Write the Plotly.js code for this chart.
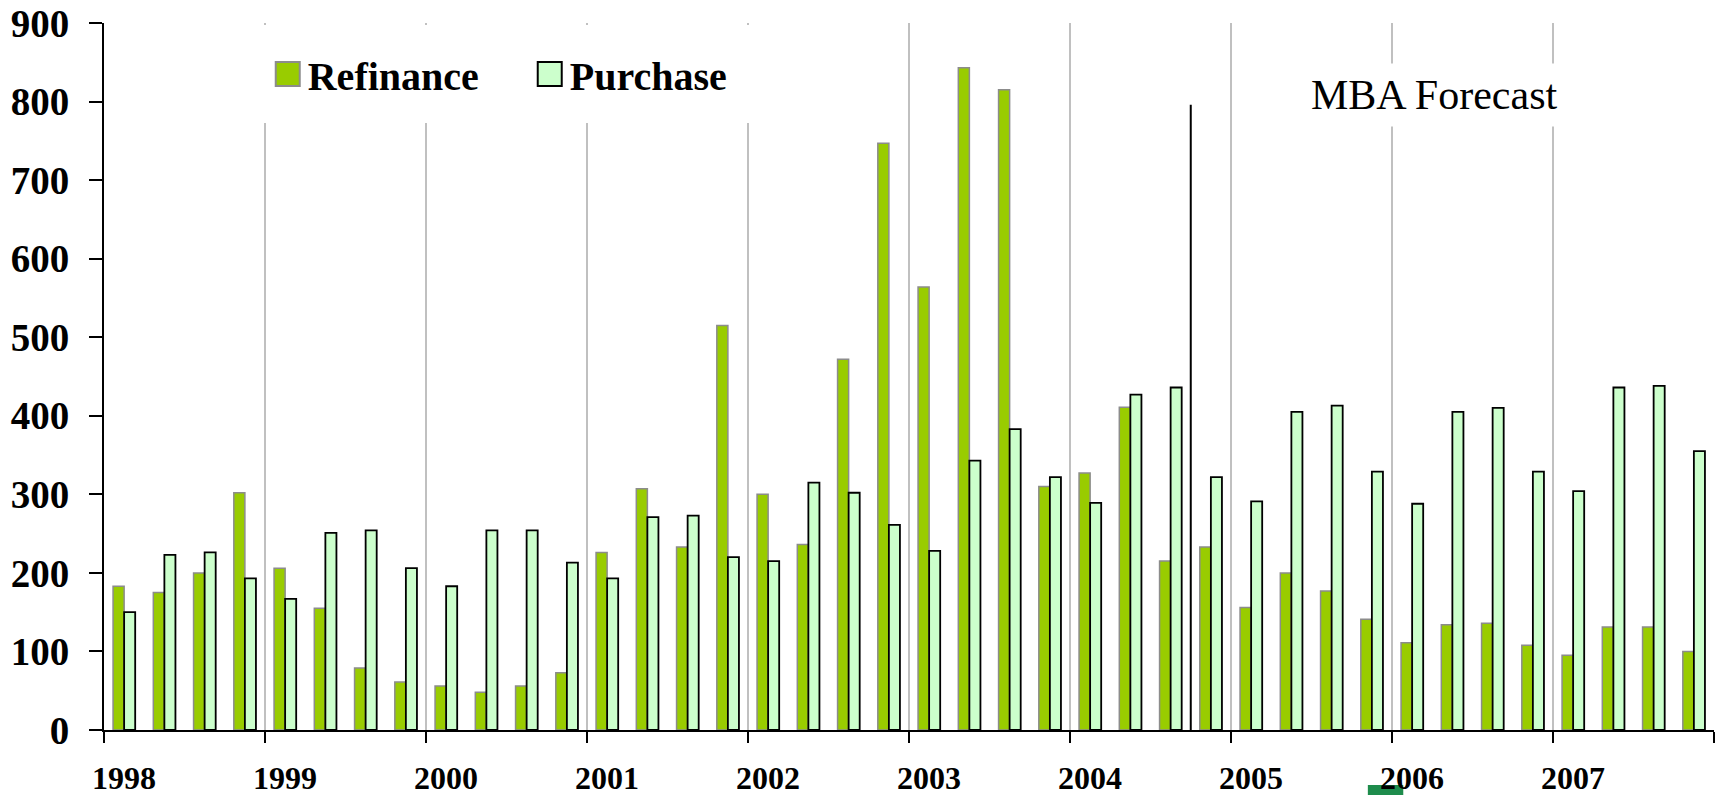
<!DOCTYPE html>
<html>
<head>
<meta charset="utf-8">
<script src="https://cdn.plot.ly/plotly-3.0.1.min.js"></script>
<style>
  html, body { margin: 0; padding: 0; background: #ffffff; }
  #chart { width: 1716px; height: 795px; }
</style>
</head>
<body>
<div id="chart"></div>
<script>
// ---- data ----
const years = ['1998', '1999', '2000', '2001', '2002', '2003', '2004', '2005', '2006', '2007'];
const quarterNames = ['Q1', 'Q2', 'Q3', 'Q4'];
const refinance = [
  183, 175, 200, 302,
  206, 155, 79, 61,
  56, 48, 56, 73,
  226, 307, 233, 515,
  300, 236, 472, 747,
  564, 843, 815, 310,
  327, 411, 215, 233,
  156, 200, 177, 141,
  111, 134, 136, 108,
  95, 131, 131, 100
];
const purchase = [
  150, 223, 226, 193,
  167, 251, 254, 206,
  183, 254, 254, 213,
  193, 271, 273, 220,
  215, 315, 302, 261,
  228, 343, 383, 322,
  289, 427, 436, 322,
  291, 405, 413, 329,
  288, 405, 410, 329,
  304, 436, 438, 355
];
const yTicks = [0, 100, 200, 300, 400, 500, 600, 700, 800, 900];
const forecastAfter = '2004 Q3';   // last actual quarter
const forecastLineTop = 796;
const forecastLabel = 'MBA Forecast';

// ---- derived ----
const quarters = [];
years.forEach(y => quarterNames.forEach(q => quarters.push(y + ' ' + q)));
const xIdx = quarters.map((_, i) => i);
const yearStarts = years.map((_, i) => i * 4 - 0.5);
const tickVals = yearStarts.concat([quarters.length - 0.5]);
const tickText = years.concat(['']);
const forecastX = quarters.indexOf(forecastAfter) + 0.5;

const serif = 'Liberation Serif, Times New Roman, serif';

const traces = [
  {
    type: 'bar', name: 'Refinance', x: xIdx, y: refinance,
    text: quarters, hoverinfo: 'text+y+name', textposition: 'none',
    marker: { color: '#99cc00', line: { color: '#8c8c8c', width: 1.5 } }
  },
  {
    type: 'bar', name: 'Purchase', x: xIdx, y: purchase,
    text: quarters, hoverinfo: 'text+y+name', textposition: 'none',
    marker: { color: '#ccffcc', line: { color: '#000000', width: 1.8 } }
  }
];

const layout = {
  width: 1716, height: 795,
  margin: { l: 104, r: 2, t: 23, b: 65 },
  paper_bgcolor: '#ffffff', plot_bgcolor: '#ffffff',
  barmode: 'group', bargap: 0.45, bargroupgap: 0,
  font: { family: serif, color: '#000000' },
  showlegend: true,
  legend: {
    orientation: 'h', x: 0.1017, xanchor: 'left', y: 0.928, yanchor: 'middle',
    bgcolor: 'rgba(255,255,255,0)', borderwidth: 0,
    font: { family: serif, size: 40, color: '#000000', weight: 'bold' },
    entrywidth: 217, entrywidthmode: 'pixels'
  },
  xaxis: {
    range: [-0.5, quarters.length - 0.5],
    tickmode: 'array', tickvals: tickVals, ticktext: tickText,
    ticks: 'outside', ticklen: 11, tickwidth: 2, tickcolor: '#000000',
    ticklabelshift: 20, ticklabelstandoff: 8,
    tickfont: { family: serif, size: 32, color: '#000000', weight: 'bold' },
    showgrid: true, gridcolor: '#c0c0c0', gridwidth: 1.5,
    showline: true, linecolor: '#000000', linewidth: 2,
    zeroline: false, fixedrange: true
  },
  yaxis: {
    range: [0, 900],
    tickmode: 'array', tickvals: yTicks,
    ticks: 'outside', ticklen: 13, tickwidth: 2, tickcolor: '#000000',
    ticklabelstandoff: 12,
    tickfont: { family: serif, size: 39, color: '#000000', weight: 'bold' },
    showgrid: false, zeroline: false,
    showline: true, linecolor: '#000000', linewidth: 2, fixedrange: true
  },
  shapes: [
    // white legend backing box (hides gridlines behind the legend)
    { type: 'rect', xref: 'paper', yref: 'paper', layer: 'above',
      x0: 0.09, x1: 0.48, y0: 0.8586, y1: 0.997,
      fillcolor: '#ffffff', line: { width: 0 } },
    // forecast divider
    { type: 'line', xref: 'x', yref: 'y', layer: 'above',
      x0: forecastX, x1: forecastX, y0: 0, y1: forecastLineTop,
      line: { color: '#000000', width: 2 } },
    // cropped logo fragment at the bottom edge
    { type: 'rect', xref: 'paper', yref: 'paper', layer: 'below',
      x0: 0.785, x1: 0.807, y0: -0.0919, y1: -0.0778,
      fillcolor: '#1e8c4c', line: { width: 0 } }
  ],
  annotations: [
    { xref: 'x', yref: 'y', x: 32.54, y: 808, text: forecastLabel,
      showarrow: false, xanchor: 'center', yanchor: 'middle',
      font: { family: serif, size: 42, color: '#000000' },
      bgcolor: '#ffffff', borderpad: 8 }
  ]
};

Plotly.newPlot('chart', traces, layout, { displayModeBar: false, staticPlot: true }).then(gd => {
  // enlarge the legend swatches to match the reference's larger squares
  gd.querySelectorAll('.legend .legendpoints path').forEach(p => {
    const t = p.getAttribute('transform') || '';
    p.setAttribute('transform', t + ' scale(2)');
    p.style.strokeWidth = '1px';
  });
});
</script>
</body>
</html>
